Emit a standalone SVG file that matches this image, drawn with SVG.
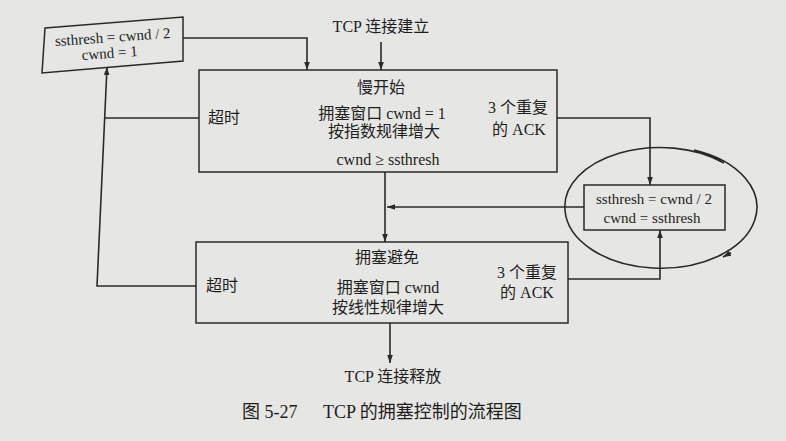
<svg xmlns="http://www.w3.org/2000/svg" width="786" height="441" viewBox="0 0 786 441">
<style>
text{font-family:"Liberation Serif","Noto Sans CJK SC",serif;font-size:16px;fill:#1e1e1e;text-anchor:middle}
.sm{font-size:15px}
.box{fill:none;stroke:#2a2a2a;stroke-width:1.5}
.ln{fill:none;stroke:#2a2a2a;stroke-width:1.6}
.cap{font-size:18px;text-anchor:start}
</style>
<defs>
<marker id="ah" viewBox="0 0 10 10" refX="10" refY="5" markerWidth="8" markerHeight="8" markerUnits="userSpaceOnUse" orient="auto">
<path d="M0,1.5 L10,5 L0,8.5 Z" fill="#2a2a2a"/>
</marker>
</defs>
<rect width="786" height="441" fill="#e6e6e4"/>
<g id="connectors">
<path class="ln" d="M183,38 H307 V70" marker-end="url(#ah)"/>
<path class="ln" d="M381,42 V70" marker-end="url(#ah)"/>
<path class="ln" d="M196,286 H97 L107,67" marker-end="url(#ah)"/>
<path class="ln" d="M199,118 H104.7"/>
<path class="ln" d="M385,172 V242" marker-end="url(#ah)"/>
<path class="ln" d="M584,207 H387" marker-end="url(#ah)"/>
<path class="ln" d="M557,118 H650 V185" marker-end="url(#ah)"/>
<path class="ln" d="M568,279 H660 V230" marker-end="url(#ah)"/>
<path class="ln" d="M390,323 V363" marker-end="url(#ah)"/>
<path class="ln" d="M694,150 A96 61 0 1 1 565,210 A95 59 0 0 1 724,163"/>
<path class="ln" d="M731,252.8 L723,257" marker-end="url(#ah)"/>
</g>
<g id="reset-timeout">
<polygon class="box" points="45,28 183,17 183,61 42,73"/>
<text class="sm" x="113" y="42" transform="rotate(-4 113 42)">ssthresh = cwnd / 2</text>
<text class="sm" x="110" y="58" transform="rotate(-4 110 58)">cwnd = 1</text>
</g>
<g id="start">
<text x="381" y="32">TCP 连接建立</text>
</g>
<g id="slow-start">
<rect class="box" x="199" y="70" width="358" height="102"/>
<text x="381" y="93">慢开始</text>
<text x="224" y="123">超时</text>
<text x="382" y="119">拥塞窗口 cwnd = 1</text>
<text x="384" y="137">按指数规律增大</text>
<text x="388" y="165">cwnd ≥ ssthresh</text>
<text x="518" y="113">3 个重复</text>
<text x="519" y="135">的 ACK</text>
</g>
<g id="fast-recovery">
<rect class="box" x="584" y="185" width="141" height="45"/>
<text class="sm" x="654" y="204">ssthresh = cwnd / 2</text>
<text class="sm" x="652" y="223">cwnd = ssthresh</text>
</g>
<g id="congestion-avoidance">
<rect class="box" x="196" y="242" width="372" height="81"/>
<text x="387" y="263">拥塞避免</text>
<text x="222" y="291">超时</text>
<text x="388" y="293">拥塞窗口 cwnd</text>
<text x="388" y="313">按线性规律增大</text>
<text x="527" y="278">3 个重复</text>
<text x="527" y="298">的 ACK</text>
</g>
<g id="end">
<text x="393" y="382">TCP 连接释放</text>
</g>
<text class="cap" x="242" y="418">图 5-27</text>
<text class="cap" x="323" y="418">TCP 的拥塞控制的流程图</text>
</svg>
